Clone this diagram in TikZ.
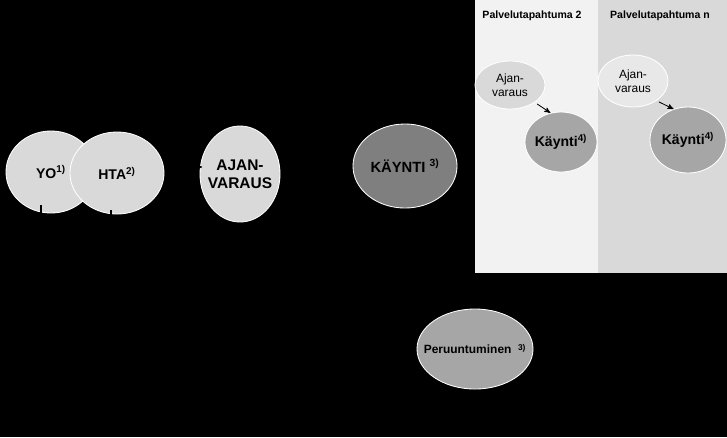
\documentclass[tikz,border=0pt]{standalone}
\usepackage{fontspec}
\setmainfont{Liberation Sans}
\usetikzlibrary{shapes.geometric, arrows, positioning}
\definecolor{panelA}{HTML}{F2F2F2}
\definecolor{panelB}{HTML}{D9D9D9}
\definecolor{lightgray}{HTML}{D9D9D9}
\definecolor{midgray}{HTML}{A6A6A6}
\definecolor{darkgray}{HTML}{7F7F7F}
\definecolor{palegray}{HTML}{E8E8E8}

\begin{document}
\begin{tikzpicture}[x=0.025cm, y=-0.025cm,
    blob/.style={ellipse, draw=white, line width=0.6pt, inner sep=0pt, align=center},
    bigtext/.style={font=\bfseries\fontsize{10}{12}\selectfont},
    smalltext/.style={font=\fontsize{8.5}{10}\selectfont},
    title/.style={font=\bfseries\fontsize{7.5}{9}\selectfont}]
    \fill[black] (0,0) rectangle (727,437);
    \fill[panelA] (475,0) rectangle (598,273);
    \fill[panelB] (598,0) rectangle (727,273);
    \node[title] (tit2) at (532,16) {Palvelutapahtuma 2};
    \node[title] (titn) at (660,16) {Palvelutapahtuma n};
    % main chain
    \node[blob, bigtext, fill=lightgray, minimum width=2.25cm, minimum height=2.05cm] (yo) at (51,172) {YO\textsuperscript{1)}};
    \node[blob, bigtext, fill=lightgray, minimum width=2.35cm, minimum height=2.05cm] (hta) at (117,173) {HTA\textsuperscript{2)}};
    \node[blob, font=\bfseries\fontsize{11}{13}\selectfont, fill=lightgray, inner xsep=-4pt, minimum width=2.0cm, minimum height=2.4cm] (ajan) at (240,174) {AJAN-\\VARAUS};
    \node[blob, font=\bfseries\fontsize{10.5}{12}\selectfont, fill=darkgray, minimum width=2.6cm, minimum height=2.1cm] (kaynti) at (405,166) {KÄYNTI \textsuperscript{3)}};
    \node[blob, font=\bfseries\fontsize{8.5}{10}\selectfont, fill=midgray, inner xsep=-7.5pt, minimum width=2.9cm, minimum height=2.0cm] (peru) at (475,349) {Peruuntuminen \ \textsuperscript{3)}};
    % panels
    \node[blob, smalltext, fill=lightgray, minimum width=1.75cm, minimum height=1.2cm] (ajan2) at (510,85) {Ajan-\\varaus};
    \node[blob, font=\bfseries\fontsize{10}{12}\selectfont, fill=midgray, inner xsep=-1.5pt, minimum width=1.8cm, minimum height=1.5cm] (kayn2) at (561,142) {Käynti\textsuperscript{4)}};
    \node[blob, smalltext, fill=palegray, minimum width=1.75cm, minimum height=1.3cm] (ajann) at (633,81) {Ajan-\\varaus};
    \node[blob, font=\bfseries\fontsize{10}{12}\selectfont, fill=midgray, inner xsep=-1pt, minimum width=1.9cm, minimum height=1.65cm] (kaynn) at (688,140) {Käynti\textsuperscript{4)}};
    \draw[-stealth', line width=0.6pt, shorten <=2pt] (ajan2.-35) -- (kayn2.110);
    \draw[-stealth', line width=0.6pt, shorten <=2pt] (ajann.-40) -- (kaynn.115);
    % black connectors
    \coordinate (yoout) at (41,260);
    \coordinate (htaout) at (111,260);
    \coordinate (ajanin) at (172,167);
    \draw[black, line width=0.8pt] ([yshift=6pt]yo.south -| yoout) -- (yoout);
    \draw[black, line width=0.8pt] ([yshift=3pt]hta.south -| htaout) -- (htaout);
    \draw[-stealth', black, line width=0.8pt, shorten >=-1.5pt] (ajanin) -- (ajan.170);
\end{tikzpicture}
\end{document}
